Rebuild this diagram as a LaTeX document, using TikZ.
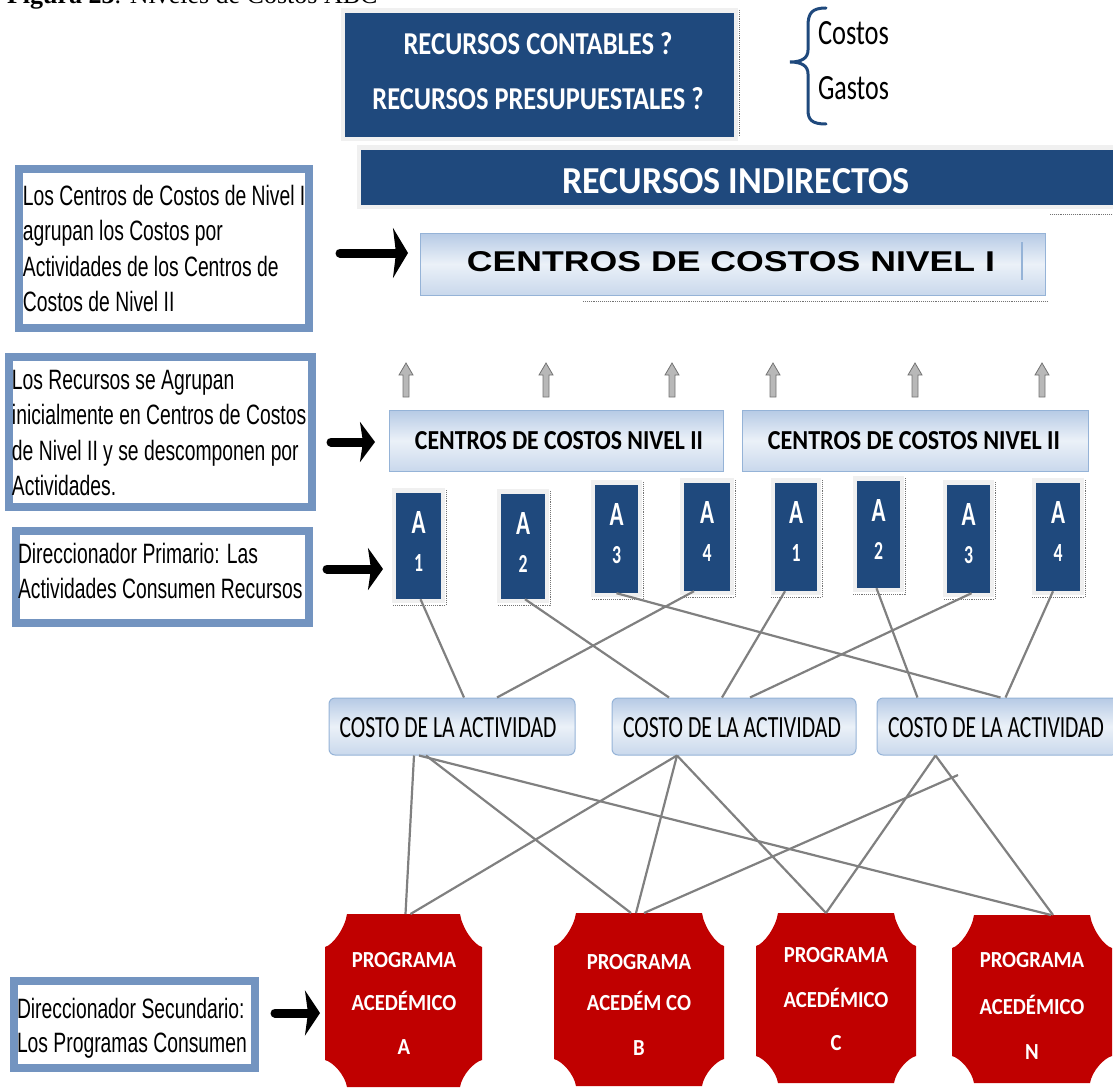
\documentclass[tikz,border=0pt]{standalone}
\usepackage{fontspec}
\usepackage{graphicx}
\usetikzlibrary{arrows.meta}
\setmainfont{Liberation Serif}
\newfontfamily\carl{Carlito}
\newfontfamily\progf[FakeStretch=0.9]{Carlito}
\newfontfamily\narrow[FakeStretch=0.69]{Liberation Sans}
\newfontfamily\sansb{Liberation Sans}
\newcommand\fitto[3]{\resizebox{#1}{#2}{#3}}
\definecolor{navyabc}{HTML}{1F497D}
\definecolor{framebl}{HTML}{7394C0}
\definecolor{edgebl}{HTML}{95B3D7}
\definecolor{shtop}{HTML}{B6CAE5}
\definecolor{shmid}{HTML}{EBF1F8}
\definecolor{shbot}{HTML}{C9D8EC}
\definecolor{progred}{HTML}{C00000}
\definecolor{linkgray}{HTML}{808080}
\begin{document}
\begin{tikzpicture}[x=1pt,y=-1pt,
  halo/.style={fill=black!6, draw=none},
  navybox/.style={fill=navyabc, draw=none, inner sep=0},
  litebox/.style={draw=edgebl, line width=1pt, top color=shtop, bottom color=shbot, middle color=shmid, inner sep=0},
  framebox/.style={draw=framebl, line width=8pt, fill=white, inner sep=0},
  txt/.style={inner sep=0, outer sep=0},
  leftnote/.style={txt, anchor=north west, align=left, font=\narrow\fontsize{28pt}{35.5pt}\selectfont},
  progtext/.style={txt, anchor=base, text=white, font=\progf\bfseries\fontsize{23pt}{26pt}\selectfont},
  bigarrow/.style={line width=9pt, line cap=round, -{Stealth[length=15pt,width=#1,inset=3pt]}},
  link/.style={draw=linkgray, line width=2.2pt},
  marks/.style={densely dotted, black!55, line width=0.9pt},
  uparrow/.pic={\draw[draw=black!55, fill=black!28, line width=0.8pt]
      (-3,0) -- (-3,-22) -- (-7,-22) -- (0,-34) -- (7,-22) -- (3,-22) -- (3,0) -- cycle;}
]
\useasboundingbox (0,0) rectangle (1113,1089);
\clip (0,0) rectangle (1113,1089);

% caption
\node[txt, anchor=base west, font=\fontsize{26pt}{30pt}\selectfont] (title) at (7,4)
  {\textbf{Figura 23}. Niveles de Costos ABC};

% resources box
\fill[halo] (341,8) rectangle (738,141);
\node[navybox, minimum width=389pt, minimum height=124pt] (rc) at (539.5,75) {};
\draw[marks] (739,10) -- (739,137);
\node[txt, text=white] at (538,44) {\fitto{269pt}{22pt}{\carl\bfseries RECURSOS CONTABLES ?}};
\node[txt, text=white] at (538,99) {\fitto{331pt}{22pt}{\carl\bfseries RECURSOS PRESUPUESTALES ?}};

% brace with Costos / Gastos
\draw[navyabc, line width=3pt, line cap=round]
  (826,8) .. controls (812,8) and (808,13) .. (808,26) -- (808,50)
  .. controls (808,58) and (802,62) .. (790,62)
  .. controls (802,62) and (808,66) .. (808,74) -- (808,110)
  .. controls (808,120) and (812,124) .. (826,124);
\node[txt, anchor=west] (costos) at (818,33) {\fitto{71pt}{23pt}{\carl Costos}};
\node[txt, anchor=west] (gastos) at (818,88) {\fitto{71pt}{23pt}{\carl Gastos}};

% indirect resources bar
\fill[halo] (357,145) rectangle (1113,209);
\node[navybox, minimum width=752pt, minimum height=55pt] (ri) at (737,177.5) {};
\node[txt, text=white] at (736,181) {\fitto{347pt}{25pt}{\carl\bfseries RECURSOS INDIRECTOS}};
\draw[marks] (1050,214) -- (1113,214);

% level I cost centre
\node[litebox, minimum width=625pt, minimum height=62pt] (n1) at (732.5,264) {};
\draw[edgebl, line width=1.2pt] (1022,242) -- (1022,280);
\node[txt] at (731,262) {\fitto{528pt}{20pt}{\sansb\bfseries CENTROS DE COSTOS NIVEL I}};
\draw[marks] (583,301) -- (1047,301);

% upward arrows
\foreach \x in {406,546,672,773,915,1042} \pic at (\x,397) {uparrow};

% level II cost centres
\node[litebox, minimum width=334pt, minimum height=61pt] (n2a) at (556,440.5) {};
\node[litebox, minimum width=346pt, minimum height=61pt] (n2b) at (915,440.5) {};
\node[txt] at (559,441) {\fitto{288pt}{18pt}{\carl\bfseries CENTROS DE COSTOS NIVEL II}};
\node[txt] at (914,441) {\fitto{292pt}{18pt}{\carl\bfseries CENTROS DE COSTOS NIVEL II}};

% activities
\foreach \nm/\xa/\ya/\xb/\yb/\dg in {aL1/396/493/441/599/1, aL2/501/494/545/599/2,
    aL3/595/485/638/593/3, aL4/684/483/730/591/4, aR1/775/483/817/591/1,
    aR2/857/481/900/588/2, aR3/947/485/990/593/3, aR4/1036/483/1080/591/4}{
  \fill[halo] (\xa-4,\ya-5) rectangle (\xb+4,\yb+4);
  \node[navybox, minimum width={(\xb-\xa)*1pt}, minimum height={(\yb-\ya)*1pt}]
    (\nm) at ({(\xa+\xb)/2},{(\ya+\yb)/2}) {};
  \draw[marks] (\xb+5,\ya-3) -- (\xb+5,\yb+6) -- (\xa-4,\yb+6);
  \node[txt, text=white] at ([yshift=-30pt]\nm.north) {\fitto{14pt}{22pt}{\carl\bfseries A}};
  \node[txt, text=white] at ([yshift=-70pt]\nm.north) {\fitto{9pt}{17pt}{\carl\bfseries \dg}};
}

% activity costs
\node[litebox, rounded corners=6pt, minimum width=246pt, minimum height=57pt] (cA) at (452,726.5) {};
\node[litebox, rounded corners=6pt, minimum width=244pt, minimum height=57pt] (cB) at (734,726.5) {};
\node[litebox, rounded corners=6pt, minimum width=241pt, minimum height=57pt] (cC) at (997.5,726.5) {};
\node[txt] at (448,728) {\fitto{217pt}{20pt}{\carl COSTO DE LA ACTIVIDAD}};
\node[txt] at (732,728) {\fitto{218pt}{20pt}{\carl COSTO DE LA ACTIVIDAD}};
\node[txt] at (996,728) {\fitto{216pt}{20pt}{\carl COSTO DE LA ACTIVIDAD}};

% activities -> activity costs
\draw[link] ([xshift=2pt]aL1.south) -- ([xshift=12pt]cA.north);
\draw[link] ([xshift=2pt]aL2.south) -- ([xshift=-65pt]cB.north);
\draw[link] (aL3.south) -- ([xshift=3pt]cC.north);
\draw[link] ([xshift=-13pt]aL4.south) -- ([xshift=45pt]cA.north);
\draw[link] ([xshift=-11pt]aR1.south) -- ([xshift=-12pt]cB.north);
\draw[link] ([xshift=-2pt]aR2.south) -- ([xshift=-80pt]cC.north);
\draw[link] ([xshift=3pt]aR3.south) -- ([xshift=16pt]cB.north);
\draw[link] ([xshift=-5pt]aR4.south) -- ([xshift=8pt]cC.north);

% academic programmes
\foreach \nm/\xa/\ya/\xb/\yb in {pA/325/914/482/1087, pB/554/913/724/1086,
    pC/756/913/916/1083, pN/952/915/1112/1083}{
  \fill[progred] (\xa+22,\ya) -- (\xb-22,\ya)
    .. controls (\xb-20,\ya+14) and (\xb-8,\ya+31) .. (\xb,\ya+33) -- (\xb,\yb-27)
    .. controls (\xb-8,\yb-25) and (\xb-20,\yb-12) .. (\xb-22,\yb) -- (\xa+22,\yb)
    .. controls (\xa+20,\yb-12) and (\xa+8,\yb-25) .. (\xa,\yb-27) -- (\xa,\ya+33)
    .. controls (\xa+8,\ya+31) and (\xa+20,\ya+14) .. cycle;
  \node[txt, minimum width={(\xb-\xa)*1pt}, minimum height={(\yb-\ya)*1pt}]
    (\nm) at ({(\xa+\xb)/2},{(\ya+\yb)/2}) {};
}
\node[progtext] at (404,967.5) {PROGRAMA};
\node[progtext] at (404,1010.5) {ACEDÉMICO};
\node[progtext] at (404,1054.5) {A};
\node[progtext] at (639,969.5) {PROGRAMA};
\node[progtext] at (639,1010.5) {ACEDÉM CO};
\node[progtext] at (639,1055.5) {B};
\node[progtext] at (836,962.5) {PROGRAMA};
\node[progtext] at (836,1007.5) {ACEDÉMICO};
\node[progtext] at (836,1050.5) {C};
\node[progtext] at (1032,967.5) {PROGRAMA};
\node[progtext] at (1032,1014.5) {ACEDÉMICO};
\node[progtext] at (1032,1059.5) {N};

% activity costs -> programmes
\draw[link] ([xshift=-38pt]cA.south) -- ([xshift=2pt]pA.north);
\draw[link] ([xshift=-26pt]cA.south) -- ([xshift=-8pt]pB.north);
\draw[link] ([xshift=-33pt]cA.south) -- ([xshift=19pt]pN.north);
\draw[link] ([xshift=-57pt]cB.south) -- ([xshift=7pt]pA.north);
\draw[link] ([xshift=-57pt]cB.south) -- ([xshift=-3pt]pB.north);
\draw[link] ([xshift=-57pt]cB.south) -- ([xshift=-10pt]pC.north);
\draw[link] ([xshift=-62pt]cC.south) -- ([xshift=-10pt]pC.north);
\draw[link] ([xshift=-62pt]cC.south) -- ([xshift=21pt]pN.north);
\coordinate (cCtail) at (958,775);
\draw[link] (cCtail) -- ([xshift=5pt]pB.north);

% explanatory notes
\node[framebox, minimum width=290pt, minimum height=159pt] (lb1) at (164,248.5) {};
\node[framebox, minimum width=303pt, minimum height=150pt] (lb2) at (160.5,432) {};
\node[framebox, minimum width=293pt, minimum height=92pt] (lb3) at (162.5,577) {};
\node[framebox, minimum width=241pt, minimum height=87pt] (lb4) at (134.5,1024.5) {};
\node[leftnote] (t1) at (23,185) {Los Centros de Costos de Nivel I\\agrupan los Costos por\\Actividades de los Centros de\\Costos de Nivel II};
\node[leftnote] (t2) at (12,370) {Los Recursos se Agrupan\\inicialmente en Centros de Costos\\de Nivel II y se descomponen por\\Actividades.};
\node[leftnote] (t3) at (18,543) {Direccionador Primario: Las\\Actividades Consumen Recursos};
\node[leftnote, font=\narrow\fontsize{28pt}{34pt}\selectfont] (t4) at (17,998) {Direccionador Secundario:\\Los Programas Consumen};

% pointer arrows
\coordinate (s1) at (340,253);  \coordinate (e1) at (408,253);
\coordinate (s2) at (331,442);  \coordinate (e2) at (375,442);
\coordinate (s3) at (327,569);  \coordinate (e3) at (383,569);
\coordinate (s4) at (275,1013); \coordinate (e4) at (320,1013);
\draw[bigarrow=50pt] (s1) -- (e1);
\draw[bigarrow=40pt] (s2) -- (e2);
\draw[bigarrow=42pt] (s3) -- (e3);
\draw[bigarrow=45pt] (s4) -- (e4);
\end{tikzpicture}
\end{document}
